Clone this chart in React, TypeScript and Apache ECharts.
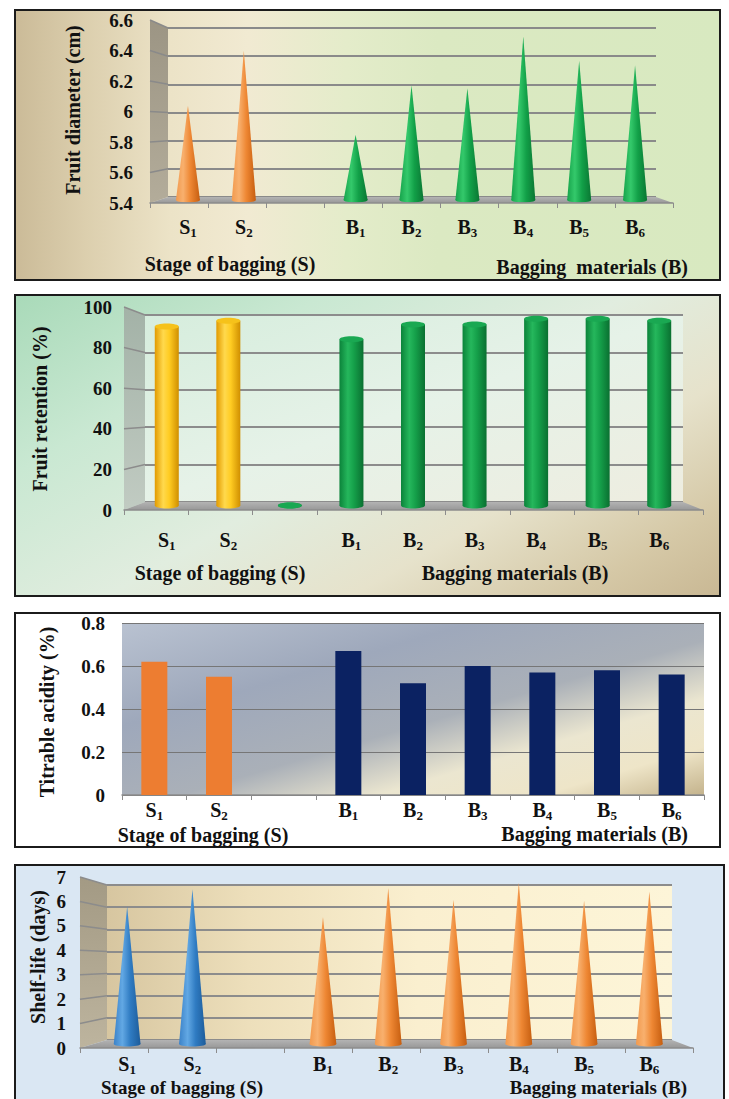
import React, { useEffect, useRef } from 'react';
import * as echarts from 'echarts';

// ---------------- DATA ----------------
const categories = ['S1', 'S2', 'gap', 'B1', 'B2', 'B3', 'B4', 'B5', 'B6'];
const stageKeys = ['S1', 'S2'];
const materialKeys = ['B1', 'B2', 'B3', 'B4', 'B5', 'B6'];

const diameterStage = [6.05, 6.43];
const diameterMaterial = [5.85, 6.19, 6.17, 6.53, 6.36, 6.33];

const retentionStage = [92, 95];
const retentionGap = 0;
const retentionMaterial = [85.5, 93, 93, 96, 96, 95];

const acidityStage = [0.62, 0.55];
const acidityMaterial = [0.67, 0.52, 0.6, 0.57, 0.58, 0.56];

const shelfStage = [5.9, 6.65];
const shelfMaterial = [5.45, 6.7, 6.2, 6.93, 6.15, 6.55];

const diameterAxis = { min: 5.4, max: 6.6, interval: 0.2 };
const retentionAxis = { min: 0, max: 100, interval: 20 };
const acidityAxis = { min: 0, max: 0.8, interval: 0.2 };
const shelfAxis = { min: 0, max: 7, interval: 1 };

// ---------------- STYLE ----------------
const FONT = '"Liberation Serif", "Times New Roman", serif';
const TXT = '#111111';

const ORANGE_CONE = [
  { offset: 0, color: '#f29a4e' },
  { offset: 0.3, color: '#f8b06e' },
  { offset: 0.6, color: '#ee8733' },
  { offset: 1, color: '#c65e10' },
];
const GREEN_CONE = [
  { offset: 0, color: '#16a34b' },
  { offset: 0.32, color: '#34c96b' },
  { offset: 0.62, color: '#12a048' },
  { offset: 1, color: '#0a7733' },
];
const BLUE_CONE = [
  { offset: 0, color: '#3b82c8' },
  { offset: 0.32, color: '#62a8e4' },
  { offset: 0.62, color: '#2f7bc2' },
  { offset: 1, color: '#1d5c9a' },
];
const YELLOW_CYL = [
  { offset: 0, color: '#e29a00' },
  { offset: 0.35, color: '#ffd94d' },
  { offset: 0.6, color: '#ffcc22' },
  { offset: 1, color: '#d08f00' },
];
const GREEN_CYL = [
  { offset: 0, color: '#0b833a' },
  { offset: 0.35, color: '#25b75c' },
  { offset: 0.6, color: '#15a04a' },
  { offset: 1, color: '#0a7031' },
];

type Box = { l: number; t: number; r: number; b: number };

const catFormatter = (v: string) =>
  v === 'gap' ? '' : `{m|${v.charAt(0)}}{s|${v.slice(1)}}`;
const labelRich = {
  m: { fontFamily: FONT, fontWeight: 'bold', fontSize: 20, color: TXT, verticalAlign: 'top', lineHeight: 18 },
  s: { fontFamily: FONT, fontWeight: 'bold', fontSize: 13, color: TXT, verticalAlign: 'bottom', lineHeight: 22 },
};

function lin(stops: any[], x2 = 1, y2 = 0) {
  return { type: 'linear', x: 0, y: 0, x2, y2, colorStops: stops };
}

function coneRender(stops: any[], ratio: number, yMin: number) {
  return (params: any, api: any) => {
    const c = api.value(0);
    const tip = api.coord([c, api.value(1)]);
    const base = api.coord([c, yMin]);
    const hw = (api.size([1, 0])[0] * ratio) / 2;
    return {
      type: 'group',
      children: [
        {
          type: 'ellipse',
          shape: { cx: base[0], cy: base[1], rx: hw, ry: 2.5 },
          style: { fill: new echarts.graphic.LinearGradient(0, 0, 1, 0, stops) },
        },
        {
          type: 'polygon',
          shape: { points: [[tip[0], tip[1]], [base[0] - hw, base[1]], [base[0] + hw, base[1]]] },
          style: { fill: new echarts.graphic.LinearGradient(0, 0, 1, 0, stops) },
        },
      ],
    };
  };
}

function cylRender(stops: any[], topColor: string, ratio: number, yMin: number) {
  return (params: any, api: any) => {
    const c = api.value(0);
    const top = api.coord([c, api.value(1)]);
    const base = api.coord([c, yMin]);
    const hw = (api.size([1, 0])[0] * ratio) / 2;
    const ry = 3;
    return {
      type: 'group',
      children: [
        {
          type: 'ellipse',
          shape: { cx: base[0], cy: base[1], rx: hw, ry },
          style: { fill: new echarts.graphic.LinearGradient(0, 0, 1, 0, stops) },
        },
        {
          type: 'rect',
          shape: { x: base[0] - hw, y: top[1], width: hw * 2, height: Math.max(0, base[1] - top[1]) },
          style: { fill: new echarts.graphic.LinearGradient(0, 0, 1, 0, stops) },
        },
        {
          type: 'ellipse',
          shape: { cx: top[0], cy: top[1], rx: hw, ry },
          style: { fill: topColor },
        },
      ],
    };
  };
}

function titleText(text: string, x: number, y: number, align: string, rotate = false, size = 20) {
  return {
    type: 'text',
    x,
    y,
    rotation: rotate ? Math.PI / 2 : 0,
    z: 5,
    style: {
      text,
      fill: TXT,
      fontFamily: FONT,
      fontWeight: 'bold',
      fontSize: size,
      align,
      textAlign: align,
      verticalAlign: 'middle',
      textVerticalAlign: 'middle',
    },
  };
}

function buildOption() {
  const grid: any[] = [];
  const xAxis: any[] = [];
  const yAxis: any[] = [];
  const series: any[] = [];
  const graphic: any[] = [];

  const addGrid = (b: Box) => {
    grid.push({ left: b.l, top: b.t, width: b.r - b.l, height: b.b - b.t, containLabel: false });
    return grid.length - 1;
  };

  const panel3D = (cfg: {
    back: Box;
    mid: Box;
    front: Box;
    axis: { min: number; max: number; interval: number };
    labelMargin: number;
    yLabelMargin: number;
    gridColor: string;
    sideStops: any[];
    backFill?: any;
  }) => {
    const { back, mid, front, axis } = cfg;
    const gb = addGrid(back);
    xAxis.push({ gridIndex: gb, type: 'category', data: categories, show: false });
    yAxis.push({
      gridIndex: gb,
      type: 'value',
      min: axis.min,
      max: axis.max,
      interval: axis.interval,
      axisLine: { show: false },
      axisTick: { show: false },
      axisLabel: { show: false },
      splitLine: { show: true, lineStyle: { color: cfg.gridColor, width: 2 } },
    });
    const gm = addGrid(mid);
    xAxis.push({
      gridIndex: gm,
      type: 'category',
      data: categories,
      axisLine: { show: false },
      axisTick: { show: false },
      axisLabel: { interval: 0, margin: cfg.labelMargin, formatter: catFormatter, rich: labelRich },
    });
    yAxis.push({
      gridIndex: gm,
      type: 'value',
      min: axis.min,
      max: axis.max,
      interval: axis.interval,
      axisLine: { show: false },
      axisTick: { show: false },
      axisLabel: { show: false },
      splitLine: { show: false },
    });
    const gf = addGrid(front);
    xAxis.push({
      gridIndex: gf,
      type: 'category',
      data: categories,
      z: 4,
      axisLine: { show: true, lineStyle: { color: '#8c8c8c', width: 1.5 } },
      axisTick: { show: true, length: 5, lineStyle: { color: '#8c8c8c', width: 1 } },
      axisLabel: { show: false },
    });
    yAxis.push({
      gridIndex: gf,
      type: 'value',
      min: axis.min,
      max: axis.max,
      interval: axis.interval,
      axisLine: { show: false },
      axisTick: { show: false },
      splitLine: { show: false },
      axisLabel: {
        margin: cfg.yLabelMargin,
        color: TXT,
        fontFamily: FONT,
        fontWeight: 'bold',
        fontSize: 19,
      },
    });
    if (cfg.backFill) {
      graphic.push({
        type: 'rect',
        z: -1,
        shape: { x: back.l, y: back.t, width: back.r - back.l, height: back.b - back.t },
        style: { fill: cfg.backFill },
      });
    }
    graphic.push({
      type: 'polygon',
      z: 1,
      shape: { points: [[front.l, front.t], [back.l, back.t], [back.l, back.b], [front.l, front.b]] },
      style: { fill: lin(cfg.sideStops, 0, 1) },
    });
    graphic.push({
      type: 'polygon',
      z: 1,
      shape: { points: [[front.l, front.b], [back.l, back.b], [back.r, back.b], [front.r, front.b]] },
      style: {
        fill: lin([
          { offset: 0, color: '#b3b3b3' },
          { offset: 1, color: '#989898' },
        ], 0, 1),
      },
    });
    const n = Math.round((axis.max - axis.min) / axis.interval);
    for (let i = 1; i <= n; i++) {
      const f = i / n;
      const yf = front.b - f * (front.b - front.t);
      const yk = back.b - f * (back.b - back.t);
      graphic.push({
        type: 'line',
        z: 1.5,
        shape: { x1: front.l, y1: yf, x2: back.l, y2: yk },
        style: { stroke: cfg.gridColor, lineWidth: 1.5 },
      });
    }
    return gm;
  };

  // ---------- Panel 1: Fruit diameter ----------
  const m1 = panel3D({
    back: { l: 168, t: 28, r: 656, b: 197 },
    mid: { l: 160, t: 26, r: 663, b: 200 },
    front: { l: 150, t: 20, r: 673, b: 203 },
    axis: diameterAxis,
    labelMargin: 17,
    yLabelMargin: 17,
    gridColor: '#8a8a8a',
    sideStops: [
      { offset: 0, color: '#9c9584' },
      { offset: 1, color: '#b3ac9a' },
    ],
  });
  series.push({
    type: 'custom',
    name: 'Stage of bagging',
    xAxisIndex: m1,
    yAxisIndex: m1,
    encode: { x: 0, y: 1 },
    z: 3,
    data: stageKeys.map((k, i) => [k, diameterStage[i]]),
    renderItem: coneRender(ORANGE_CONE, 0.43, diameterAxis.min),
  });
  series.push({
    type: 'custom',
    name: 'Bagging materials',
    xAxisIndex: m1,
    yAxisIndex: m1,
    encode: { x: 0, y: 1 },
    z: 3,
    data: materialKeys.map((k, i) => [k, diameterMaterial[i]]),
    renderItem: coneRender(GREEN_CONE, 0.43, diameterAxis.min),
  });
  graphic.push(titleText('Fruit diameter (cm)', 73, 110, 'center', true));
  graphic.push(titleText('Stage of bagging (S)', 230, 264, 'center'));
  graphic.push(titleText('Bagging  materials (B)', 688, 267, 'right'));

  // ---------- Panel 2: Fruit retention ----------
  const m2 = panel3D({
    back: { l: 145, t: 315, r: 683, b: 502 },
    mid: { l: 136, t: 311, r: 690, b: 505.5 },
    front: { l: 124, t: 307, r: 703, b: 510 },
    axis: retentionAxis,
    labelMargin: 24,
    yLabelMargin: 12,
    gridColor: '#8c8c8c',
    sideStops: [
      { offset: 0, color: '#a3b2a7' },
      { offset: 1, color: '#c1cbc2' },
    ],
    backFill: lin([
      { offset: 0, color: '#d6eddd' },
      { offset: 0.5, color: '#e6f2e8' },
      { offset: 1, color: '#eeede0' },
    ], 1, 1),
  });
  series.push({
    type: 'custom',
    name: 'Stage of bagging',
    xAxisIndex: m2,
    yAxisIndex: m2,
    encode: { x: 0, y: 1 },
    z: 3,
    data: stageKeys.map((k, i) => [k, retentionStage[i]]),
    renderItem: cylRender(YELLOW_CYL, '#f6c21a', 0.39, retentionAxis.min),
  });
  series.push({
    type: 'custom',
    name: 'Bagging materials',
    xAxisIndex: m2,
    yAxisIndex: m2,
    encode: { x: 0, y: 1 },
    z: 3,
    data: [['gap', retentionGap], ...materialKeys.map((k, i) => [k, retentionMaterial[i]])],
    renderItem: cylRender(GREEN_CYL, '#1aa852', 0.39, retentionAxis.min),
  });
  graphic.push(titleText('Fruit retention (%)', 40, 409, 'center', true));
  graphic.push(titleText('Stage of bagging (S)', 220, 573, 'center'));
  graphic.push(titleText('Bagging materials (B)', 515, 573, 'center'));

  // ---------- Panel 3: Titrable acidity ----------
  const p3: Box = { l: 122, t: 623, r: 704, b: 795 };
  const g3 = addGrid(p3);
  graphic.push({
    type: 'rect',
    z: -1,
    shape: { x: p3.l, y: p3.t, width: p3.r - p3.l, height: p3.b - p3.t },
    style: {
      fill: lin([
        { offset: 0, color: '#b9c2d1' },
        { offset: 0.3, color: '#9ea8bb' },
        { offset: 0.55, color: '#aab0b8' },
        { offset: 0.72, color: '#ebe6d0' },
        { offset: 0.86, color: '#eee5c8' },
        { offset: 1, color: '#c4b38c' },
      ], 1, 1),
    },
  });
  xAxis.push({
    gridIndex: g3,
    type: 'category',
    data: categories,
    axisLine: { show: true, lineStyle: { color: '#8c8c8c', width: 1.5 } },
    axisTick: { show: true, length: 5, lineStyle: { color: '#8c8c8c' } },
    axisLabel: { interval: 0, margin: 5, formatter: catFormatter, rich: labelRich },
  });
  yAxis.push({
    gridIndex: g3,
    type: 'value',
    min: acidityAxis.min,
    max: acidityAxis.max,
    interval: acidityAxis.interval,
    axisLine: { show: false },
    axisTick: { show: false },
    splitLine: { show: true, lineStyle: { color: '#767676', width: 1.2 } },
    axisLabel: { margin: 17, color: TXT, fontFamily: FONT, fontWeight: 'bold', fontSize: 19 },
  });
  series.push({
    type: 'bar',
    name: 'Stage of bagging',
    xAxisIndex: g3,
    yAxisIndex: g3,
    barWidth: 26,
    barGap: '-100%',
    itemStyle: { color: '#ed7d31' },
    data: stageKeys.map((k, i) => [k, acidityStage[i]]),
  });
  series.push({
    type: 'bar',
    name: 'Bagging materials',
    xAxisIndex: g3,
    yAxisIndex: g3,
    barWidth: 26,
    barGap: '-100%',
    itemStyle: { color: '#0b2262' },
    data: materialKeys.map((k, i) => [k, acidityMaterial[i]]),
  });
  graphic.push(titleText('Titrable acidity (%)', 47, 712, 'center', true));
  graphic.push(titleText('Stage of bagging (S)', 203, 835, 'center'));
  graphic.push(titleText('Bagging materials (B)', 688, 834, 'right'));

  // ---------- Panel 4: Shelf-life ----------
  const m4 = panel3D({
    back: { l: 107, t: 885, r: 672, b: 1040 },
    mid: { l: 94.5, t: 881, r: 682, b: 1044 },
    front: { l: 80, t: 877, r: 693, b: 1048 },
    axis: shelfAxis,
    labelMargin: 10,
    yLabelMargin: 14,
    gridColor: '#8c8c8c',
    sideStops: [
      { offset: 0, color: '#a39a84' },
      { offset: 1, color: '#bdb49e' },
    ],
    backFill: lin([
      { offset: 0, color: '#d7c6a0' },
      { offset: 0.25, color: '#eddfbb' },
      { offset: 0.55, color: '#faefcf' },
      { offset: 1, color: '#fdf5d8' },
    ], 1, 0),
  });
  series.push({
    type: 'custom',
    name: 'Stage of bagging',
    xAxisIndex: m4,
    yAxisIndex: m4,
    encode: { x: 0, y: 1 },
    z: 3,
    data: stageKeys.map((k, i) => [k, shelfStage[i]]),
    renderItem: coneRender(BLUE_CONE, 0.41, shelfAxis.min),
  });
  series.push({
    type: 'custom',
    name: 'Bagging materials',
    xAxisIndex: m4,
    yAxisIndex: m4,
    encode: { x: 0, y: 1 },
    z: 3,
    data: materialKeys.map((k, i) => [k, shelfMaterial[i]]),
    renderItem: coneRender(ORANGE_CONE, 0.41, shelfAxis.min),
  });
  graphic.push(titleText('Shelf-life (days)', 38, 957, 'center', true));
  graphic.push(titleText('Stage of bagging (S)', 182, 1087, 'center', false, 19));
  graphic.push(titleText('Bagging materials (B)', 687, 1087, 'right', false, 19));

  return {
    animation: false,
    backgroundColor: 'transparent',
    textStyle: { fontFamily: FONT },
    grid,
    xAxis,
    yAxis,
    series,
    graphic: { elements: graphic },
  };
}

const panelBase: React.CSSProperties = {
  position: 'absolute',
  boxSizing: 'border-box',
  border: '2px solid #1b1b1b',
};

export default function App() {
  const ref = useRef<HTMLDivElement>(null);
  useEffect(() => {
    if (!ref.current) return;
    const chart = echarts.init(ref.current, undefined, { renderer: 'svg' });
    chart.setOption(buildOption() as any);
    return () => chart.dispose();
  }, []);
  return (
    <div style={{ position: 'fixed', left: 0, top: 0, width: 729, height: 1099, overflow: 'hidden', background: '#ffffff' }}>
      <div
        style={{
          ...panelBase,
          left: 14,
          top: 9,
          width: 707,
          height: 272,
          background:
            'linear-gradient(90deg, #cbbb98 0%, #dccfae 10%, #ece3c7 22%, #f1ead2 33%, #e4ecca 47%, #dbe9c2 60%, #d8e9c0 100%)',
        }}
      />
      <div
        style={{
          ...panelBase,
          left: 14,
          top: 294,
          width: 707,
          height: 303,
          background:
            'linear-gradient(150deg, #a9dab9 0%, #c9e8d2 25%, #e1eddf 50%, #e6e2cb 70%, #d5c8a6 88%, #c9b894 100%)',
        }}
      />
      <div style={{ ...panelBase, left: 14, top: 612, width: 707, height: 236, background: '#ffffff' }} />
      <div style={{ ...panelBase, left: 14, top: 864, width: 711, height: 245, background: '#dae7f3' }} />
      <div ref={ref} style={{ position: 'absolute', left: 0, top: 0, width: 729, height: 1099 }} />
    </div>
  );
}
